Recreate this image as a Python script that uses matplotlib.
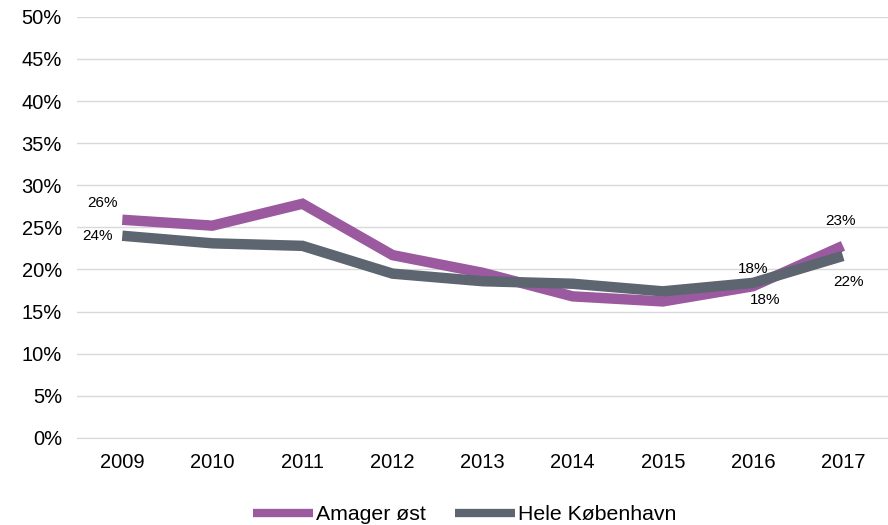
import matplotlib.pyplot as plt
from matplotlib.ticker import PercentFormatter

plt.rcParams['font.family'] = ['Liberation Sans', 'DejaVu Sans']

years = ['2009', '2010', '2011', '2012', '2013', '2014', '2015', '2016', '2017']
amager_ost = [25.9, 25.2, 27.8, 21.7, 19.6, 16.8, 16.2, 18.0, 22.8]
hele_kbh = [24.0, 23.1, 22.8, 19.5, 18.6, 18.3, 17.4, 18.4, 21.6]

purple = '#9b59a0'
grey = '#5c6570'

fig = plt.figure(figsize=(8.88, 5.25), dpi=100)
ax = fig.add_axes([0.087, 0.166, 0.913, 0.802])
x = range(len(years))

ax.plot(x, amager_ost, color=purple, lw=7.5, label='Amager øst',
        solid_joinstyle='miter', solid_capstyle='butt')
ax.plot(x, hele_kbh, color=grey, lw=7.5, label='Hele København',
        solid_joinstyle='miter', solid_capstyle='butt')

# data labels (only first and last two points)
fs = 11
def lab(i, vals, dx, dy):
    ax.annotate(f'{vals[i]:.0f}%', (i, vals[i]), xytext=(dx, dy), textcoords='offset points',
                ha='center', va='center', fontsize=fs)

lab(0, amager_ost, -14, 12)
lab(0, hele_kbh, -18, 0)
lab(7, hele_kbh, 0, 10)
lab(7, amager_ost, 9, -10)
lab(8, amager_ost, -2, 18)
lab(8, hele_kbh, 4, -19)

ax.set_xlim(-0.5, len(years) - 0.5)
ax.set_ylim(0, 50)
ax.set_yticks(range(0, 51, 5))
ax.yaxis.set_major_formatter(PercentFormatter(decimals=0))
ax.set_xticks(list(x))
ax.set_xticklabels(years)
ax.tick_params(axis='both', length=0, labelsize=14.5, colors='black')
ax.tick_params(axis='x', pad=11)
ax.tick_params(axis='y', pad=11)

ax.grid(axis='y', color='#d9d9d9', lw=1)
ax.set_axisbelow(True)
for s in ['top', 'right', 'left']:
    ax.spines[s].set_visible(False)
ax.spines['bottom'].set_color('#d9d9d9')

leg = ax.legend(loc='upper center', bbox_to_anchor=(0.478, -0.115), ncol=2, frameon=False,
                fontsize=15.3, handlelength=2.8, handletextpad=0.14, columnspacing=1.4)
for h in leg.get_lines():
    h.set_linewidth(6)

fig.savefig('out.png', dpi=100)
